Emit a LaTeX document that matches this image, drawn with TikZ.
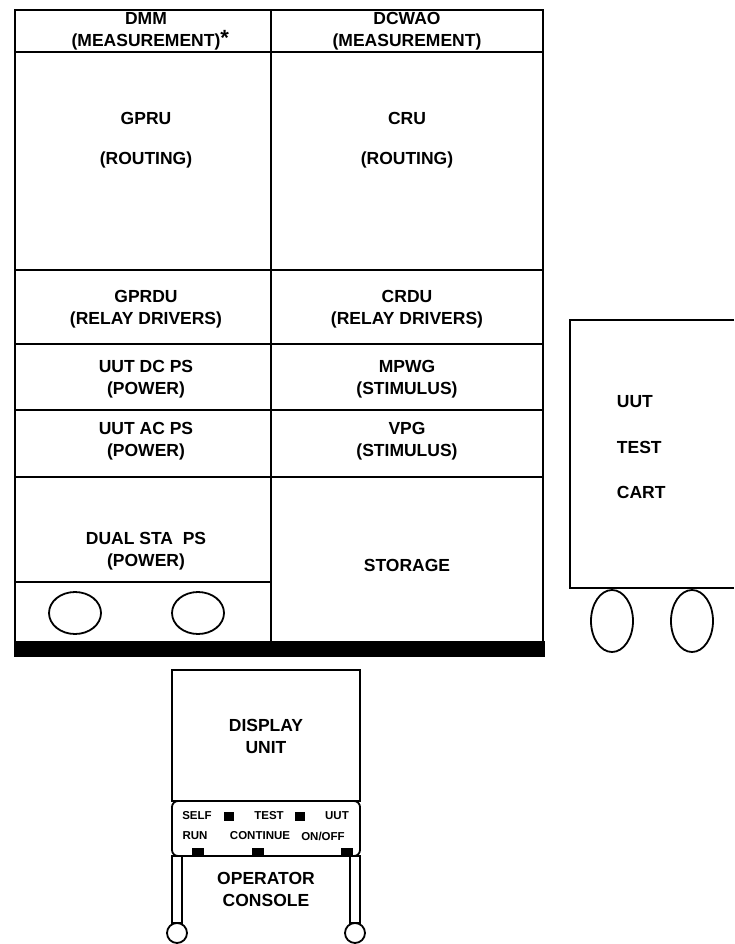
\documentclass[tikz,border=0pt]{standalone}
\usepackage{fontspec}
\setmainfont{Liberation Sans}
\usetikzlibrary{shapes}

\begin{document}
\begin{tikzpicture}[x = 1pt, y = -1pt, line width = 1.8pt,
  unit/.style = {align = center, font = \bfseries\fontsize{17.5}{22}\selectfont, inner sep = 0pt},
  key/.style = {font = \bfseries\fontsize{11.5}{12}\selectfont, inner sep = 0pt},
  lamp/.style = {rectangle, fill = black, minimum width = 10pt, minimum height = 9pt, inner sep = 0pt}]
\useasboundingbox (0,0) rectangle (734,944);

\draw (15,10) rectangle (543,642);
\draw (271,10) -- (271,642);
\foreach \y in {52,270,344,410,477}
  \draw (15,\y) -- (543,\y);
\draw (15,582) -- (271,582);
\fill (14,641) rectangle (545,657);
\draw (75,613) ellipse [x radius = 26, y radius = 21];
\draw (198,613) ellipse [x radius = 26, y radius = 21];

\draw (146,31) node[unit, name = dmm]{DMM\\(MEASUREMENT)\rlap{\raisebox{1pt}{\fontsize{22}{22}\selectfont *}}};
\draw (407,31) node[unit, name = dcwao]{DCWAO\\(MEASUREMENT)};
\draw (146,140) node[unit, name = gpru]{GPRU\\[18pt](ROUTING)};
\draw (407,140) node[unit, name = cru]{CRU\\[18pt](ROUTING)};
\draw (146,309) node[unit, name = gprdu]{GPRDU\\(RELAY DRIVERS)};
\draw (407,309) node[unit, name = crdu]{CRDU\\(RELAY DRIVERS)};
\draw (146,379) node[unit, name = dcps]{UUT DC PS\\(POWER)};
\draw (407,379) node[unit, name = mpwg]{MPWG\\(STIMULUS)};
\draw (146,441) node[unit, name = acps]{UUT AC PS\\(POWER)};
\draw (407,441) node[unit, name = vpg]{VPG\\(STIMULUS)};
\draw (146,551) node[unit, name = dualps]{DUAL STA\ \ PS\\(POWER)};
\draw (407,565) node[unit, name = storage]{STORAGE};

\draw (734,320) -- (570,320) -- (570,588) -- (734,588);
\draw (612,621) ellipse [x radius = 21, y radius = 31];
\draw (692,621) ellipse [x radius = 21, y radius = 31];
\draw (616,402) node[unit, anchor = west, name = uut]{UUT};
\draw (uut.west) + (0,45) node[unit, anchor = west, name = test]{TEST};
\draw (test.west) + (0,45) node[unit, anchor = west, name = cart]{CART};

\draw (172,670) rectangle (360,801);
\draw (266,736) node[unit, name = display]{DISPLAY\\UNIT};
\draw[rounded corners = 6pt] (172,801) rectangle (360,856);
\draw (197,816) node[key, name = self]{SELF};
\draw (229,816) node[lamp, name = selflamp]{};
\draw (269,816) node[key, name = testkey]{TEST};
\draw (300,816) node[lamp, name = testlamp]{};
\draw (337,816) node[key, name = uutkey]{UUT};
\draw (195,836) node[key, name = run]{RUN};
\draw (260,836) node[key, name = cont]{CONTINUE};
\draw (323,836) node[key, name = onoff]{ON/OFF};
\draw (198,852) node[lamp, minimum width = 12pt, name = runbtn]{};
\draw (258,852) node[lamp, minimum width = 12pt, name = contbtn]{};
\draw (347,852) node[lamp, minimum width = 12pt, name = onoffbtn]{};
\draw (172,856) rectangle (182,923);
\draw (350,856) rectangle (360,923);
\draw (177,933) circle [radius = 10];
\draw (355,933) circle [radius = 10];
\draw (266,889) node[unit, name = console]{OPERATOR\\CONSOLE};
\end{tikzpicture}
\end{document}
